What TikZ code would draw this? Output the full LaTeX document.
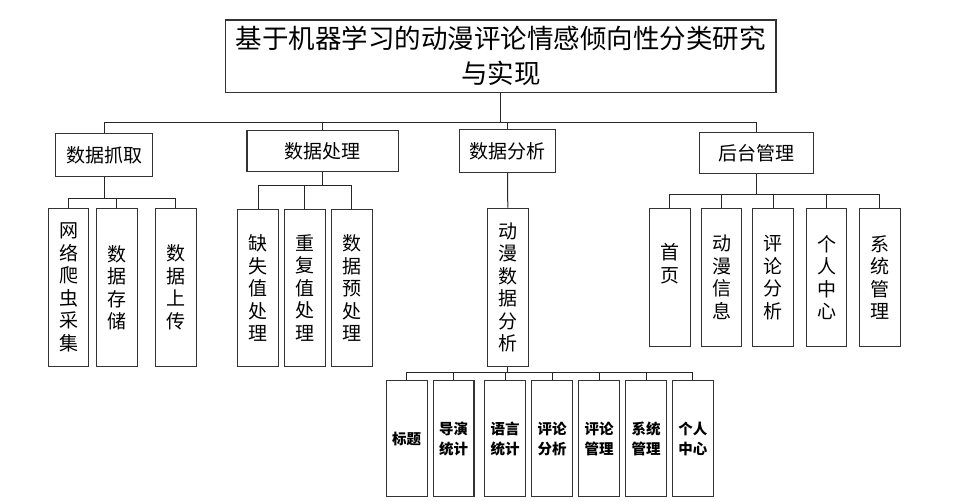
\documentclass[tikz,border=0pt]{standalone}
\usepackage{fontspec}
\setmainfont{Noto Sans CJK SC}
\begin{document}
\begin{tikzpicture}[x=1pt,y=-1pt,
  box/.style={draw=black!80,line width=1.1pt,inner sep=0pt,align=center},
  conn/.style={draw=black!85,line width=1pt},
  titlefont/.style={font={\fontsize{26.5pt}{35pt}\selectfont}},
  midfont/.style={font={\fontsize{19pt}{22.5pt}\selectfont}},
  smallfont/.style={font={\bfseries\fontsize{14.5pt}{20pt}\selectfont}},
  lone/.style={box,midfont,minimum width=96.5pt,minimum height=42.5pt},
  vbox/.style={box,midfont,minimum width=40.8pt},
  sbox/.style={box,smallfont,minimum width=40.7pt,minimum height=116pt}]
\useasboundingbox (0,0) rectangle (962,502);
% title
\node[box,titlefont,minimum width=550.3pt,minimum height=72.7pt] (title) at (500.85,56.35)
  {基于机器学习的动漫评论情感倾向性分类研究\\与实现};
% level 1
\node[lone] (zq) at (104,155) {数据抓取};
\node[lone,minimum width=151.7pt,minimum height=41pt] (cl) at (322.85,151.2) {数据处理};
\node[lone] (fx) at (507.5,151.15) {数据分析};
\node[lone,minimum width=114pt,minimum height=41pt] (ht) at (756.3,152.8) {后台管理};
% level 2: 数据抓取
\node[vbox,minimum height=158.4pt] (zq1) at (68.5,287.5) {网\\络\\爬\\虫\\采\\集};
\node[vbox,minimum height=158.4pt] (zq2) at (116.85,287.5) {数\\据\\存\\储};
\node[vbox,minimum height=158.4pt] (zq3) at (175.65,287.5) {数\\据\\上\\传};
% level 2: 数据处理
\node[vbox,minimum height=157.4pt] (cl1) at (258,288) {缺\\失\\值\\处\\理};
\node[vbox,minimum height=157.4pt] (cl2) at (304.8,288) {重\\复\\值\\处\\理};
\node[vbox,minimum height=157.4pt] (cl3) at (351.8,288) {数\\据\\预\\处\\理};
% level 2: 数据分析
\node[vbox,minimum height=158.4pt] (fx1) at (507.8,287.5) {动\\漫\\数\\据\\分\\析};
% level 2: 后台管理
\node[vbox,minimum height=138.4pt] (ht1) at (669.8,277.5) {};
\node[midfont,align=center,inner sep=0pt] (ht1t) at (669.8,264) {首\\页};
\node[vbox,minimum height=138.4pt] (ht2) at (721.5,277.5) {动\\漫\\信\\息};
\node[vbox,minimum height=138.4pt] (ht3) at (773.2,277.5) {评\\论\\分\\析};
\node[vbox,minimum height=138.4pt] (ht4) at (826.5,277.5) {个\\人\\中\\心};
\node[vbox,minimum height=138.4pt] (ht5) at (879.65,277.5) {系\\统\\管\\理};
% level 3
\node[sbox] (b1) at (406.7,438.7) {标题};
\node[sbox] (b2) at (453.65,438.7) {导演\\统计};
\node[sbox] (b3) at (505,438.7) {语言\\统计};
\node[sbox] (b4) at (552,438.7) {评论\\分析};
\node[sbox] (b5) at (599,438.7) {评论\\管理};
\node[sbox] (b6) at (646.2,438.7) {系统\\管理};
\node[sbox] (b7) at (692.8,438.7) {个人\\中心};
% bus coordinates
\coordinate (bus0) at (500.85,122.5);
\coordinate (buszq) at (104,198.3);
\coordinate (buscl) at (322.85,185.7);
\coordinate (busfx) at (507.8,372.3);
\coordinate (busht) at (756.3,195);
% connectors
\draw[conn] (title.south) -- (bus0);
\foreach \n in {zq,cl,fx,ht} \draw[conn] (\n.north) -- (\n.north |- bus0) -- (bus0);
\draw[conn] (zq.south) -- (buszq);
\foreach \n in {zq1,zq2,zq3} \draw[conn] (\n.north) -- (\n.north |- buszq) -- (buszq);
\draw[conn] (cl.south) -- (buscl);
\foreach \n in {cl1,cl2,cl3} \draw[conn] (\n.north) -- (\n.north |- buscl) -- (buscl);
\draw[conn] (fx.south) -- (fx1.north);
\draw[conn] (fx1.south) -- (busfx);
\foreach \n in {b1,b2,b3,b4,b5,b6,b7} \draw[conn] (\n.north) -- (\n.north |- busfx) -- (busfx);
\draw[conn] (ht.south) -- (busht);
\foreach \n in {ht1,ht2,ht3,ht4,ht5} \draw[conn] (\n.north) -- (\n.north |- busht) -- (busht);
\end{tikzpicture}
\end{document}
